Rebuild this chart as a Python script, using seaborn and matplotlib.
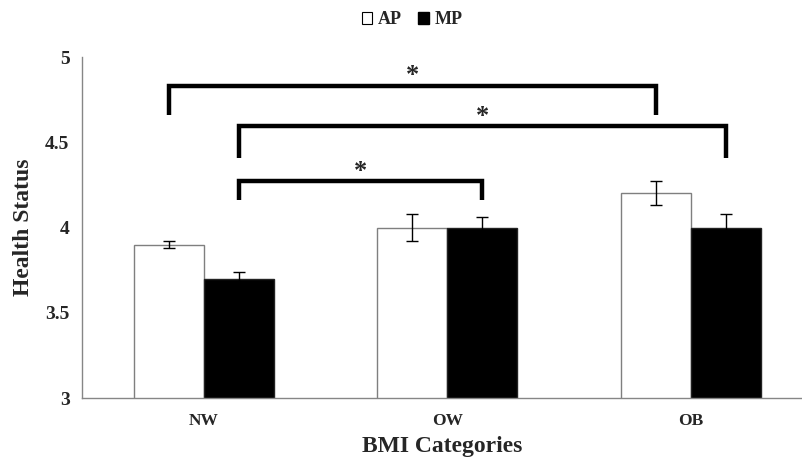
import numpy as np
import pandas as pd
import seaborn as sns
import matplotlib.pyplot as plt
from matplotlib.patches import Patch

categories = ["NW", "OW", "OB"]
groups = ["AP", "MP"]
ap_means = [3.90, 4.00, 4.20]
mp_means = [3.70, 4.00, 4.00]
ap_err = [0.02, 0.08, 0.07]
mp_err = [0.04, 0.06, 0.08]
yticks = [3, 3.5, 4, 4.5, 5]
ytick_labels = ["3", "3.5", "4", "4.5", "5"]

# significance brackets: (category, group) pairs, bracket height, leg bottom, star height
brackets = [
    (("NW", "AP"), ("OB", "AP"), 4.83, 4.66, 4.89),
    (("NW", "MP"), ("OB", "MP"), 4.595, 4.41, 4.65),
    (("NW", "MP"), ("OW", "MP"), 4.27, 4.16, 4.33),
]

df = pd.DataFrame({
    "BMI": categories * 2,
    "group": ["AP"] * 3 + ["MP"] * 3,
    "value": ap_means + mp_means,
})

sns.set_style("white")
plt.rcParams["font.family"] = ["Liberation Serif", "DejaVu Serif"]
plt.rcParams["font.weight"] = "bold"

fig = plt.figure(figsize=(8.03, 4.61), dpi=100)
ax = fig.add_axes([82 / 803, 1 - 398 / 461, 1 - 82 / 803, (398 - 57) / 461])

sns.barplot(data=df, x="BMI", y="value", hue="group", order=categories,
            hue_order=groups, palette={"AP": "white", "MP": "black"},
            width=0.575, errorbar=None, legend=False, ax=ax)

errs = {"AP": ap_err, "MP": mp_err}
means = {"AP": ap_means, "MP": mp_means}
centers = {}
for cont, g in zip(ax.containers, groups):
    for i, p in enumerate(cont.patches):
        p.set_edgecolor("#7f7f7f" if g == "AP" else "#222222")
        p.set_linewidth(1.0)
        cx = p.get_x() + p.get_width() / 2
        centers[(categories[i], g)] = cx
        ax.errorbar(cx, means[g][i], yerr=errs[g][i], fmt="none",
                    ecolor="black", elinewidth=1, capsize=4, capthick=1,
                    zorder=3)

for a, b, h, low, star in brackets:
    x1, x2 = centers[a], centers[b]
    ax.plot([x1, x1, x2, x2], [low, h, h, low], color="black", lw=3.2,
            solid_capstyle="butt", solid_joinstyle="miter", clip_on=False,
            zorder=4)
    ax.text((x1 + x2) / 2, star, "*", ha="center", va="center",
            fontsize=19, fontweight="bold", clip_on=False)

ax.set_xlim(-0.5, 2.46)
ax.set_ylim(3, 5)
ax.set_yticks(yticks)
ax.set_yticklabels(ytick_labels, fontsize=14, fontweight="bold")
ax.set_xticklabels(categories, fontsize=12.5, fontweight="bold")
ax.tick_params(axis="y", direction="out", length=5, color="#868686", width=1, pad=4)
ax.tick_params(axis="x", length=0, pad=11)
ax.set_xlabel("BMI Categories", fontsize=17, fontweight="bold", labelpad=5)
ax.set_ylabel("Health Status", fontsize=17, fontweight="bold", labelpad=8)

for s in ["top", "right"]:
    ax.spines[s].set_visible(False)
for s in ["left", "bottom"]:
    ax.spines[s].set_color("#868686")
    ax.spines[s].set_linewidth(1.0)

handles = [Patch(facecolor="white", edgecolor="black", linewidth=0.8),
           Patch(facecolor="black", edgecolor="black")]
fig.legend(handles, groups, loc="center", bbox_to_anchor=(412 / 803, 1 - 20 / 461),
           ncol=2, frameon=False, handlelength=0.6, handleheight=0.65,
           handletextpad=0.3, columnspacing=0.9, prop={"weight": "bold", "size": 13})

fig.savefig("out.png", dpi=100)
